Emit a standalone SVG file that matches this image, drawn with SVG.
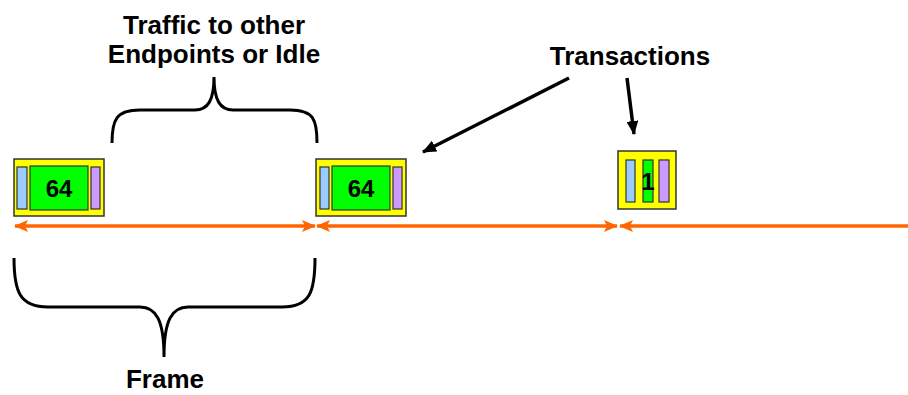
<svg xmlns="http://www.w3.org/2000/svg" width="908" height="395" viewBox="0 0 908 395">
  <style>
    .lbl { font-family: "Liberation Sans", Arial, sans-serif; font-weight: bold; font-size: 26px; fill: #000; text-anchor: middle; }
    .num { font-family: "Liberation Sans", Arial, sans-serif; font-weight: bold; font-size: 24px; fill: #000; text-anchor: middle; }
    .frame { fill: #FFFF00; stroke: #333; stroke-width: 1.5; }
    .hdr { fill: #99CCFF; stroke: #333; stroke-width: 1.2; }
    .data { fill: #00FF00; stroke: #333; stroke-width: 1.2; }
    .crc { fill: #CC99FF; stroke: #333; stroke-width: 1.2; }
    .brace { fill: none; stroke: #000; stroke-width: 3; }
    .timeline { stroke: #FF6600; stroke-width: 3.5; fill: none; }
    .pointer { stroke: #000; stroke-width: 3.5; fill: none; }
  </style>
  <defs>
    <marker id="orangeHead" viewBox="0 0 14 12" refX="13" refY="6" markerWidth="14" markerHeight="12" markerUnits="userSpaceOnUse" orient="auto-start-reverse">
      <path d="M0,0 L14,6 L0,12 L3,6 Z" fill="#FF6600"/>
    </marker>
    <marker id="blackHead" viewBox="0 0 14 12" refX="13" refY="6" markerWidth="14" markerHeight="12" markerUnits="userSpaceOnUse" orient="auto">
      <path d="M0,0 L14,6 L0,12 Z" fill="#000"/>
    </marker>
  </defs>

  <rect width="908" height="395" fill="#fff"/>

  <!-- frame timeline and pointers -->
  <g id="connectors">
    <line class="timeline" x1="15" y1="226" x2="315" y2="226" marker-start="url(#orangeHead)" marker-end="url(#orangeHead)"/>
    <line class="timeline" x1="317" y1="226" x2="617" y2="226" marker-start="url(#orangeHead)" marker-end="url(#orangeHead)"/>
    <line class="timeline" x1="620" y1="226" x2="908" y2="226" marker-start="url(#orangeHead)"/>
    <line class="pointer" x1="569" y1="78" x2="423" y2="152" marker-end="url(#blackHead)"/>
    <line class="pointer" x1="627" y1="78" x2="634" y2="134" marker-end="url(#blackHead)"/>
  </g>

  <!-- transaction packets -->
  <g id="packet1">
    <rect class="frame" x="14" y="159" width="90" height="57"/>
    <rect class="hdr" x="17" y="167" width="10" height="42"/>
    <rect class="data" x="30" y="166" width="58" height="44"/>
    <rect class="crc" x="91" y="167" width="9" height="42"/>
    <text class="num" x="59" y="197">64</text>
  </g>
  <g id="packet2">
    <rect class="frame" x="316" y="159" width="90" height="57"/>
    <rect class="hdr" x="320" y="167" width="9" height="42"/>
    <rect class="data" x="332" y="166" width="58" height="44"/>
    <rect class="crc" x="393" y="167" width="9" height="42"/>
    <text class="num" x="361" y="197">64</text>
  </g>
  <g id="packet3">
    <rect class="frame" x="618" y="151" width="58" height="58"/>
    <rect class="hdr" x="626" y="160" width="9" height="42"/>
    <rect class="data" x="643" y="160" width="10" height="42"/>
    <rect class="crc" x="659" y="160" width="10" height="42"/>
    <text class="num" x="648" y="190">1</text>
  </g>

  <!-- braces -->
  <g id="idleBrace">
    <path class="brace" d="M112,143 C112,120 116,110 140,110 L195,110 C208,110 214,100 214,77 C214,100 220,110 233,110 L290,110 C314,110 317,120 317,143"/>
    <text class="lbl" x="214" y="34">Traffic to other</text>
    <text class="lbl" x="214" y="63">Endpoints or Idle</text>
  </g>
  <g id="frameBrace">
    <path class="brace" d="M14,258 C14,292 20,307 48,307 L140,307 C156,307 164,320 164,357 C164,320 172,307 188,307 L282,307 C310,307 315,292 315,258"/>
    <text class="lbl" x="165" y="388">Frame</text>
  </g>
  <g id="transactionsLabel">
    <text class="lbl" x="630" y="65">Transactions</text>
  </g>
</svg>
